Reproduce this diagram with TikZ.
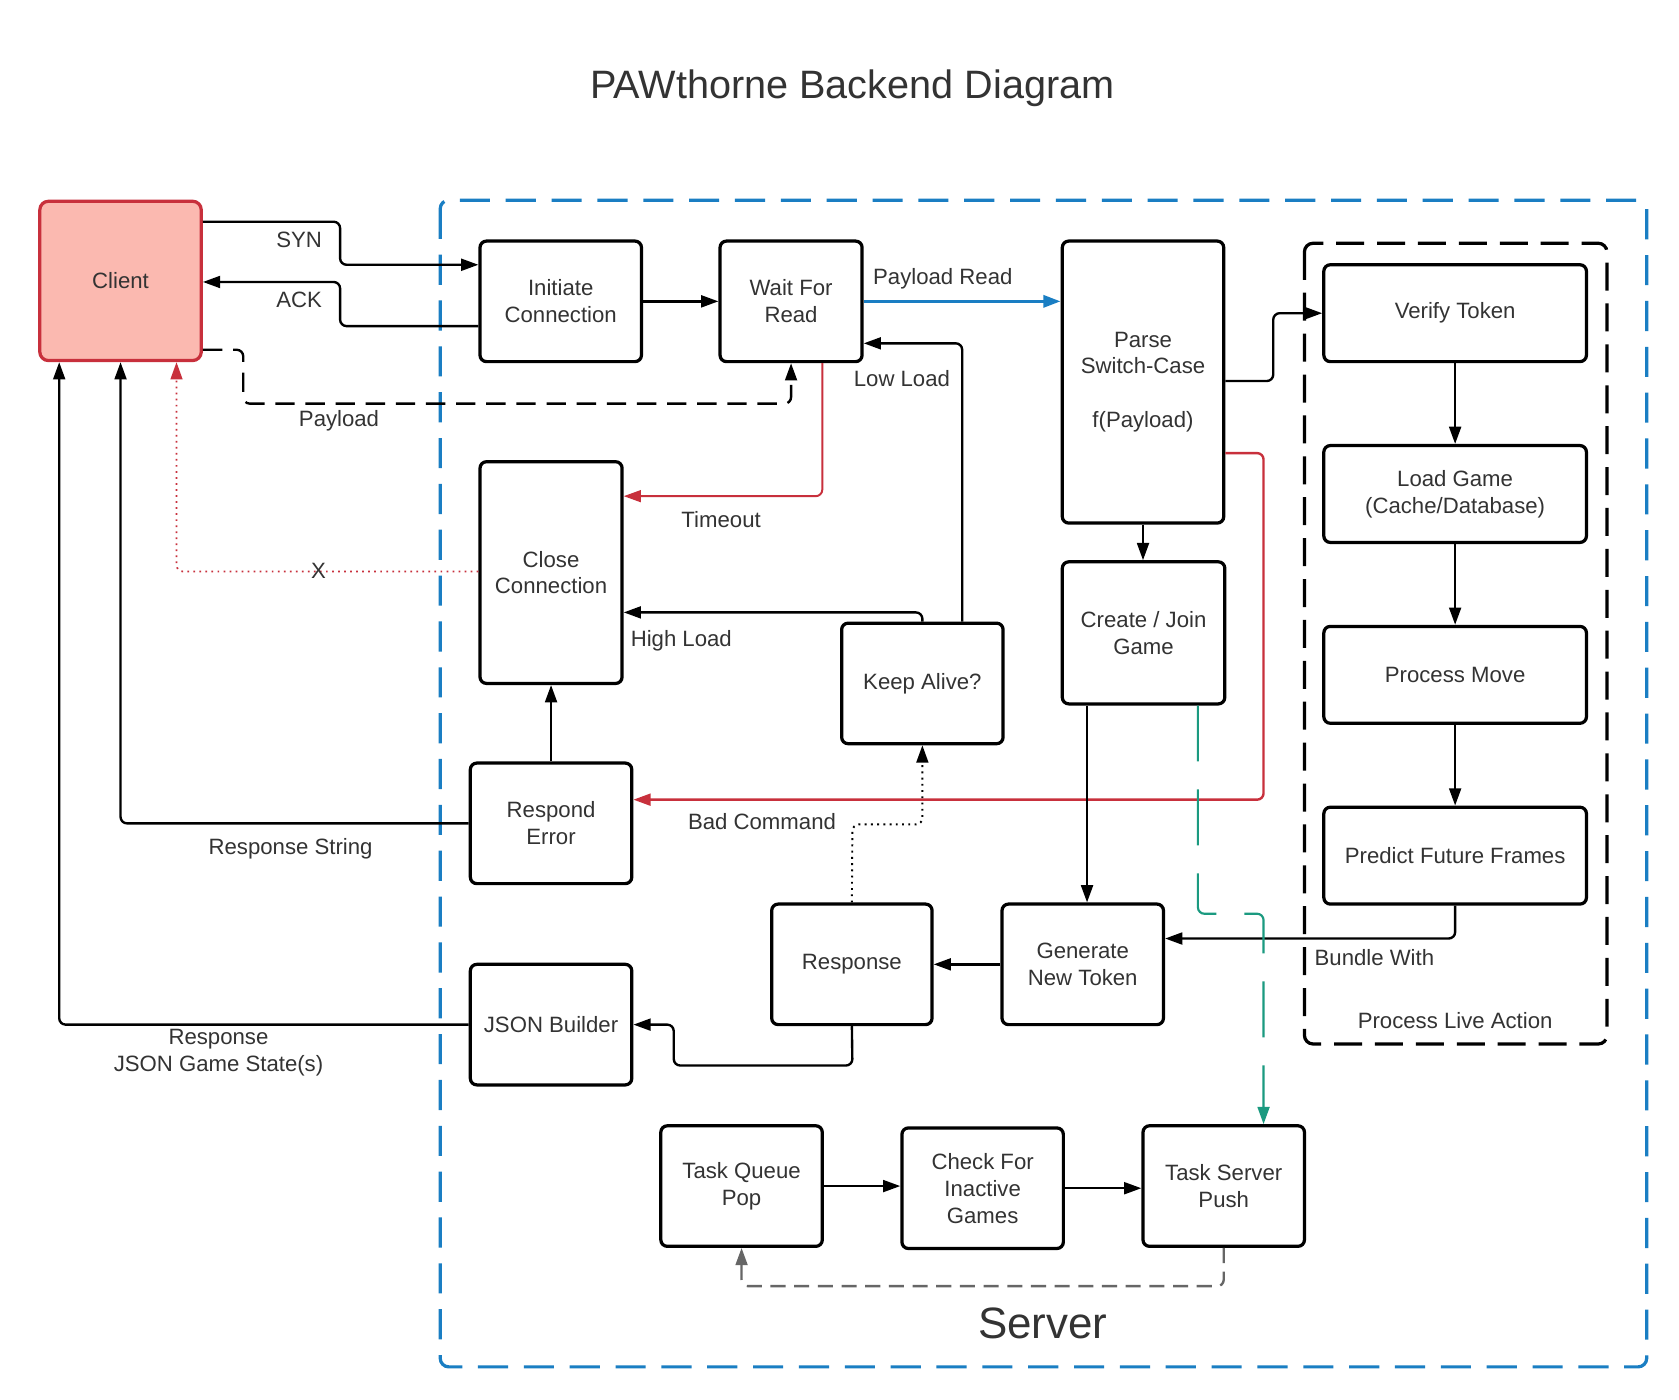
\documentclass[tikz,border=0pt]{standalone}
\usepackage{fontspec}
\setmainfont{Liberation Sans}
\usetikzlibrary{arrows.meta}
\definecolor{txt}{HTML}{333333}
\definecolor{srvblue}{HTML}{1A7EC3}
\definecolor{cred}{HTML}{C8303C}
\definecolor{cfill}{HTML}{FBB9B0}
\definecolor{tealc}{HTML}{1B9A80}
\definecolor{grayc}{HTML}{666666}
\newcommand{\bx}[6]{\node[box, minimum width={(#4-#2)*0.5pt}, minimum height={(#5-#3)*0.5pt}] (#1) at ({(#2+#4)/2},{(#3+#5)/2}) {#6};}
\begin{document}
\begin{tikzpicture}[x=0.5pt,y=-0.5pt,
  box/.style={draw=black, line width=1.5pt, rounded corners=3pt, inner sep=0pt, align=center, text=txt, font=\fontsize{10.3}{12.5}\selectfont},
  conn/.style={line width=1.1pt, rounded corners=3pt, -{Triangle[length=8pt,width=5.5pt]}},
  lbl/.style={text=txt, font=\fontsize{10.3}{12.5}\selectfont, inner sep=0pt, align=center},
]
\useasboundingbox (0,0) rectangle (1560,1300);
\fill[white] (0,0) rectangle (1560,1300);

% title
\node[text=txt, font=\fontsize{18.4}{22}\selectfont] (title) at (792,82) {PAWthorne Backend Diagram};

% server container
\draw[srvblue, line width=1.5pt, dash pattern=on 14pt off 7.3pt, rounded corners=4pt] (409,186) rectangle (1530,1270);
\node[text=txt, font=\fontsize{20.4}{24}\selectfont] (server) at (969,1230) {Server};

% process live action container
\draw[black, line width=1.5pt, dash pattern=on 13pt off 6pt, rounded corners=4pt] (1212,226) rectangle (1493,970);
\node[lbl] (pla) at (1352,948) {Process Live Action};

% client
\node[box, draw=cred, fill=cfill, rounded corners=4pt, minimum width=75pt, minimum height=74pt] (client) at (112,261) {Client};

% boxes
\bx{init}{446}{224}{596}{336}{Initiate\\Connection}
\bx{wait}{669}{224}{801}{336}{Wait For\\Read}
\bx{parse}{987}{224}{1137}{486}{Parse\\Switch-Case\\\mbox{}\\f(Payload)}
\bx{verify}{1230}{246}{1474}{336}{Verify Token}
\bx{load}{1230}{414}{1474}{504}{Load Game\\(Cache/Database)}
\bx{procm}{1230}{582}{1474}{672}{Process Move}
\bx{predict}{1230}{750}{1474}{840}{Predict Future Frames}
\bx{close}{446}{429}{578}{635}{Close\\Connection}
\bx{create}{987}{522}{1138}{654}{Create / Join\\Game}
\bx{keep}{782}{579}{932}{691}{Keep Alive?}
\bx{resperr}{437}{709}{587}{821}{Respond\\Error}
\bx{resp}{717}{840}{866}{952}{Response}
\bx{gen}{931}{840}{1081}{952}{Generate\\New Token}
\bx{json}{437}{896}{587}{1008}{JSON Builder}
\bx{tqp}{614}{1046}{764}{1158}{Task Queue\\Pop}
\bx{cfi}{838}{1048}{988}{1160}{Check For\\Inactive\\Games}
\bx{tsp}{1062}{1046}{1212}{1158}{Task Server\\Push}

% connectors
\draw[conn] (client.east |- 0,206) -- (316,206) -- (316,246) -- (init.west |- 0,246);
\node[lbl] (synl) at (278,223) {SYN};
\draw[conn] (init.west |- 0,303) -- (316,303) -- (316,262) -- (client.east |- 0,262);
\node[lbl] (ackl) at (278,279) {ACK};
\draw[conn, dash pattern=on 9pt off 5pt] (client.east |- 0,325) -- (226,325) -- (226,375) -- (wait.south |- 0,375) -- (wait.south);
\node[lbl] (payl) at (315,391) {Payload};

\draw[conn] (init.east) -- (wait.west);
\draw[conn, srvblue, line width=1.6pt] (wait.east) -- (parse.west |- wait.east);
\node[lbl] (prl) at (876,259) {Payload Read};

\draw[conn] (keep.north -| 894,0) -- (894,319) -- (wait.east |- 0,319);
\node[lbl] (lowl) at (838,352) {Low Load};

\draw[conn, cred, line width=0.9pt] (wait.south -| 764,0) -- (764,461) -- (close.east |- 0,461);
\node[lbl] (tol) at (670,483) {Timeout};

\draw[conn, cred, line width=0.8pt, dotted] (close.west |- 0,531) -- (164,531) -- (client.south -| 164,0);
\node[lbl] (xl) at (296,530) {X};

\draw[conn] (keep.north) -- (857,569) -- (close.east |- 0,569);
\node[lbl] (hil) at (633,595) {High Load};

\draw[conn] (resperr.north) -- (close.south);
\draw[conn] (resperr.west) -- (112,765) -- (client.south -| 112,0);
\node[lbl] (rsl) at (270,789) {Response String};

\draw[conn] (parse.east |- 0,354) -- (1183,354) -- (1183,291) -- (verify.west);
\draw[conn] (parse.south) -- (create.north -| parse.south);
\draw[conn, cred] (parse.east |- 0,421) -- (1174,421) -- (1174,743) -- (resperr.east |- 0,743);
\node[lbl] (bcl) at (708,763) {Bad Command};

\draw[conn] (verify.south) -- (load.north);
\draw[conn] (load.south) -- (procm.north);
\draw[conn] (procm.south) -- (predict.north);
\draw[conn] (predict.south) -- (1352,872) -- (gen.east |- 0,872);
\node[lbl] (bwl) at (1277,890) {Bundle With};

\draw[conn] (create.south -| 1010,0) -- (gen.north -| 1010,0);
\draw[conn, tealc, line width=1pt, dash pattern=on 26pt off 13pt] (create.south -| 1113,0) -- (1113,849) -- (1174,849) -- (tsp.north -| 1174,0);

\draw[conn] (gen.west) -- (resp.east);
\draw[conn, line width=0.9pt, dotted] (resp.north) -- (792,766) -- (857,766) -- (keep.south);
\draw[conn] (resp.south) -- (792,990) -- (626,990) -- (626,952) -- (json.east);
\draw[conn] (json.west) -- (55,952) -- (client.south -| 55,0);
\node[lbl] (jsl) at (203,978) {Response\\JSON Game State(s)};

\draw[conn] (tqp.east) -- (cfi.west |- tqp.east);
\draw[conn] (cfi.east) -- (tsp.west |- cfi.east);
\draw[conn, grayc, dash pattern=on 7pt off 4pt] (tsp.south) -- (tsp.south |- 0,1195) -- (tqp.south |- 0,1195) -- (tqp.south);
\end{tikzpicture}
\end{document}
